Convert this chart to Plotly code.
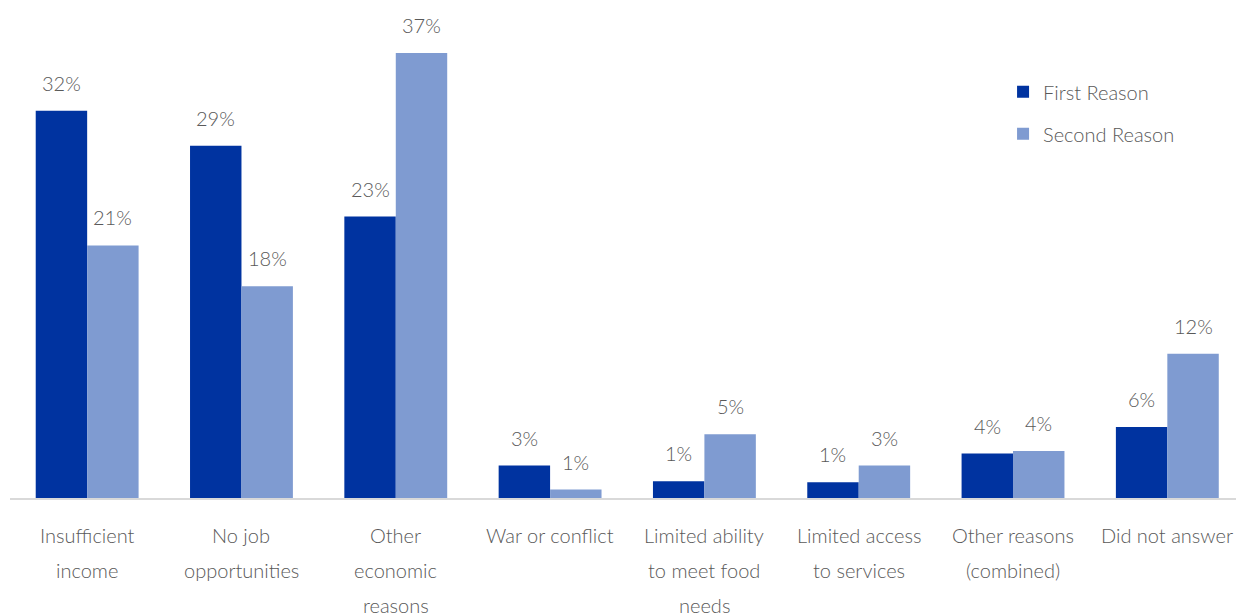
import plotly.graph_objects as go

# Reasons given, first and second choice (share of respondents, %)
categories = [
    "Insufficient<br>income",
    "No job<br>opportunities",
    "Other<br>economic<br>reasons",
    "War or conflict",
    "Limited ability<br>to meet food<br>needs",
    "Limited access<br>to services",
    "Other reasons<br>(combined)",
    "Did not answer",
]
first_reason = [32.2, 29.3, 23.4, 2.7, 1.4, 1.3, 3.7, 5.9]
second_reason = [21.0, 17.6, 37.0, 0.7, 5.3, 2.7, 3.9, 12.0]
series_names = ["First Reason", "Second Reason"]

DARK = "#0033A0"
LIGHT = "#7F9BD1"
TEXT = "#595959"
FONT = "Lato, 'Open Sans', sans-serif"
WEIGHT = 300

fig = go.Figure()
for name, vals, color in zip(series_names, [first_reason, second_reason], [DARK, LIGHT]):
    fig.add_trace(go.Bar(
        x=categories, y=vals, name=name, marker_color=color,
        marker_line_width=0, legendgroup=name,
    ))

# value labels above each bar
BAR_OFFSET = 1 / 6
for offs, vals in zip([-BAR_OFFSET, BAR_OFFSET], [first_reason, second_reason]):
    for i, v in enumerate(vals):
        fig.add_annotation(
            x=i + offs, y=v, xref="x", yref="y", text=f"{v:.0f}%",
            showarrow=False, yanchor="middle", yshift=28,
            font=dict(size=20, color=TEXT, family=FONT, weight=WEIGHT),
        )

# category labels, one line at a time for wider line spacing
for i, cat in enumerate(categories):
    for k, line in enumerate(cat.split("<br>")):
        fig.add_annotation(
            x=i, y=0, xref="x", yref="paper", text=line, showarrow=False,
            yanchor="middle", yshift=-37 - 35 * k,
            font=dict(size=20, color=TEXT, family=FONT, weight=WEIGHT),
        )

fig.update_layout(
    width=1236, height=615,
    margin=dict(l=10, r=0, t=17, b=117),
    paper_bgcolor="white", plot_bgcolor="white",
    barmode="group", bargap=1 / 3, bargroupgap=0,
    font=dict(family=FONT, size=20, color=TEXT, weight=WEIGHT),
    showlegend=True,
    legend=dict(
        x=0.810, y=0.885, xanchor="left", yanchor="top",
        font=dict(size=20, color=TEXT, family=FONT, weight=WEIGHT),
        tracegroupgap=13, bgcolor="rgba(0,0,0,0)",
    ),
    xaxis=dict(
        range=[-0.5, 7.445], showticklabels=False, ticks="",
        showline=True, linecolor="#D9D9D9", linewidth=2, showgrid=False,
        zeroline=False,
    ),
    yaxis=dict(
        range=[0, 40], visible=False, showgrid=False, zeroline=False,
    ),
)

fig.write_html("out.html")
